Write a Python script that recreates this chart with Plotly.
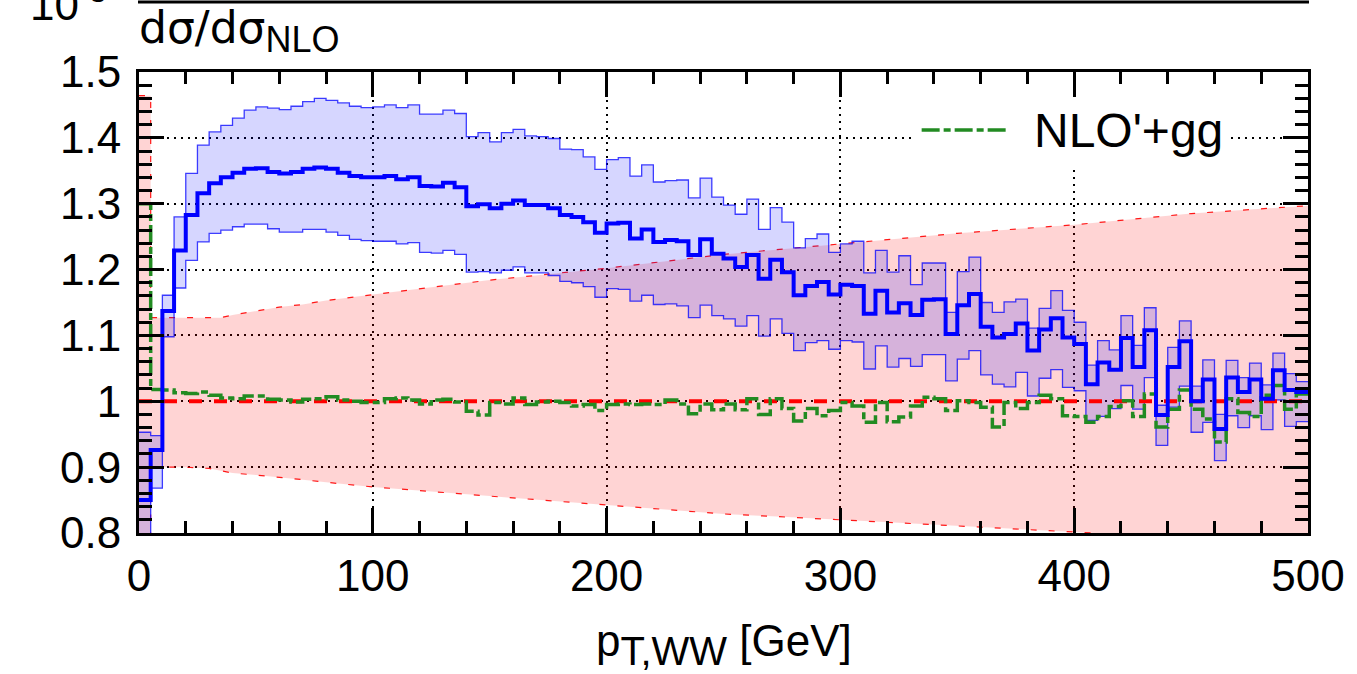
import plotly.graph_objects as go

# ---------------- data ----------------
bin_width = 5
bin_edges = [bin_width * i for i in range(101)]  # 0 .. 500 GeV

blue_central = [0.850, 0.926, 1.137, 1.229, 1.283, 1.316, 1.331, 1.340, 1.347, 1.353, 1.354, 1.348, 1.346, 1.348, 1.353, 1.355, 1.353, 1.347, 1.342, 1.340,
                1.340, 1.342, 1.337, 1.340, 1.327, 1.326, 1.332, 1.325, 1.296, 1.299, 1.293, 1.300, 1.305, 1.298, 1.298, 1.293, 1.283, 1.280, 1.272, 1.256,
                1.270, 1.271, 1.247, 1.261, 1.242, 1.245, 1.243, 1.222, 1.246, 1.224, 1.217, 1.204, 1.222, 1.186, 1.215, 1.196, 1.161, 1.175, 1.181, 1.162,
                1.177, 1.175, 1.133, 1.168, 1.135, 1.149, 1.131, 1.154, 1.155, 1.102, 1.146, 1.163, 1.113, 1.097, 1.102, 1.118, 1.077, 1.109, 1.126, 1.097,
                1.087, 1.026, 1.059, 1.048, 1.096, 1.052, 1.108, 0.979, 1.052, 1.091, 1.000, 1.033, 0.958, 1.036, 1.014, 1.033, 1.004, 1.047, 1.017, 1.014]

blue_upper = [0.953, 0.948, 1.161, 1.280, 1.346, 1.389, 1.409, 1.419, 1.430, 1.442, 1.447, 1.445, 1.443, 1.448, 1.455, 1.460, 1.457, 1.453, 1.448, 1.446,
              1.447, 1.450, 1.446, 1.450, 1.436, 1.436, 1.442, 1.437, 1.402, 1.408, 1.394, 1.408, 1.413, 1.403, 1.402, 1.399, 1.383, 1.382, 1.371, 1.352,
              1.367, 1.370, 1.342, 1.359, 1.333, 1.335, 1.336, 1.309, 1.339, 1.310, 1.298, 1.284, 1.307, 1.261, 1.294, 1.272, 1.233, 1.247, 1.254, 1.226,
              1.239, 1.243, 1.195, 1.229, 1.196, 1.221, 1.177, 1.210, 1.210, 1.135, 1.197, 1.219, 1.150, 1.135, 1.151, 1.155, 1.111, 1.141, 1.168, 1.138,
              1.120, 1.055, 1.092, 1.078, 1.130, 1.085, 1.142, 0.994, 1.082, 1.122, 1.023, 1.063, 0.980, 1.062, 1.036, 1.058, 1.025, 1.073, 1.042, 1.030]

blue_lower = [0.760, 0.868, 1.098, 1.172, 1.214, 1.242, 1.255, 1.260, 1.265, 1.269, 1.269, 1.262, 1.257, 1.257, 1.261, 1.261, 1.257, 1.252, 1.246, 1.244,
              1.243, 1.243, 1.239, 1.241, 1.226, 1.225, 1.229, 1.223, 1.196, 1.197, 1.195, 1.199, 1.204, 1.195, 1.195, 1.191, 1.182, 1.180, 1.174, 1.158,
              1.171, 1.170, 1.152, 1.161, 1.147, 1.148, 1.145, 1.127, 1.146, 1.130, 1.125, 1.114, 1.130, 1.099, 1.125, 1.103, 1.077, 1.089, 1.092, 1.079,
              1.092, 1.090, 1.049, 1.084, 1.052, 1.065, 1.053, 1.071, 1.071, 1.031, 1.064, 1.077, 1.040, 1.026, 1.022, 1.044, 1.008, 1.035, 1.048, 1.021,
              1.016, 0.971, 0.977, 0.989, 1.024, 0.988, 1.036, 0.933, 0.991, 1.023, 0.953, 0.968, 0.910, 0.978, 0.960, 0.978, 0.957, 1.002, 0.962, 0.969]

green_gg = [1.300, 1.018, 1.017, 1.013, 1.012, 1.014, 1.009, 1.005, 1.004, 1.008, 1.008, 1.003, 1.002, 0.999, 1.003, 1.004, 1.007, 1.002, 1.000, 0.998,
            0.998, 1.004, 1.005, 1.002, 0.996, 1.002, 1.003, 0.999, 0.985, 0.979, 0.998, 0.996, 1.005, 0.995, 0.999, 1.000, 0.998, 0.993, 0.995, 0.986,
            0.995, 0.996, 0.995, 0.996, 0.995, 1.002, 0.996, 0.981, 0.996, 0.987, 0.996, 0.987, 1.004, 0.980, 1.004, 0.989, 0.970, 0.989, 0.978, 0.986,
            0.998, 0.993, 0.968, 0.998, 0.969, 0.976, 0.993, 1.006, 1.004, 0.986, 1.001, 0.998, 0.991, 0.961, 0.998, 0.989, 0.998, 1.009, 1.004, 0.978,
            0.977, 0.968, 0.977, 0.992, 1.001, 0.977, 1.011, 0.961, 0.988, 1.017, 0.988, 0.973, 0.938, 1.004, 0.983, 0.977, 1.009, 1.024, 0.988, 1.011]

red_x = [0, 5, 5, 20, 30, 35, 40, 50, 60, 70, 80, 100, 150, 200, 250, 300, 350, 400, 450, 500]
red_upper = [1.464, 1.464, 1.127, 1.127, 1.127, 1.127, 1.131, 1.137, 1.143, 1.147, 1.153, 1.162, 1.184, 1.202, 1.223, 1.239, 1.255, 1.268, 1.285, 1.297]
red_lower = [0.700, 0.700, 0.900, 0.900, 0.898, 0.895, 0.891, 0.888, 0.885, 0.881, 0.877, 0.870, 0.856, 0.842, 0.829, 0.820, 0.811, 0.802, 0.792, 0.783]

nlo_x = [0, 500]
nlo_y = [1.0, 1.0]

y_tickvals = [0.8, 0.9, 1.0, 1.1, 1.2, 1.3, 1.4, 1.5]
y_ticktext = ["0.8", "0.9", "1", "1.1", "1.2", "1.3", "1.4", "1.5"]
x_tickvals = [0, 100, 200, 300, 400, 500]
x_ticktext = ["0", "100", "200", "300", "400", "500"]

legend_label = "NLO'+gg"

# ---------------- geometry ----------------
W, H = 1357, 674
L, R, T, B = 139, 44, 72, 141
PW, PH = W - L - R, H - T - B
X0, X1, Y0, Y1 = 0, 500, 0.8, 1.5


def px2gev(px):
    return X0 + (px - L) / PW * (X1 - X0)


def py2val(py):
    return Y1 - (py - T) / PH * (Y1 - Y0)


def py2paper(py):
    return (H - B - py) / PH


def px2paper(px):
    return (px - L) / PW


def step(vals):
    return list(vals) + [vals[-1]]


FONT = "Liberation Sans, Arial, Helvetica, sans-serif"
GREEN = "rgb(34,139,34)"
GREEN_DASH = "18px,4px,7px,4px"

fig = go.Figure()

# red NLO scale band
fig.add_trace(go.Scatter(x=red_x, y=red_lower, mode="lines",
                         line=dict(color="rgba(255,0,0,0.9)", width=1.2, dash="6px,12px"),
                         showlegend=False, hoverinfo="skip"))
fig.add_trace(go.Scatter(x=red_x, y=red_upper, mode="lines", fill="tonexty",
                         fillcolor="rgba(255,0,0,0.17)",
                         line=dict(color="rgba(255,0,0,0.9)", width=1.2, dash="6px,12px"),
                         showlegend=False, hoverinfo="skip"))

# blue band
fig.add_trace(go.Scatter(x=bin_edges, y=step(blue_lower), mode="lines", line_shape="hv",
                         line=dict(color="rgba(0,0,255,0.75)", width=1.3),
                         showlegend=False, hoverinfo="skip"))
fig.add_trace(go.Scatter(x=bin_edges, y=step(blue_upper), mode="lines", line_shape="hv",
                         fill="tonexty", fillcolor="rgba(0,0,255,0.16)",
                         line=dict(color="rgba(0,0,255,0.75)", width=1.3),
                         showlegend=False, hoverinfo="skip"))

# NLO reference line
fig.add_trace(go.Scatter(x=nlo_x, y=nlo_y, mode="lines",
                         line=dict(color="rgb(255,0,0)", width=4, dash="13px,12px"),
                         showlegend=False, hoverinfo="skip"))

# NLO'+gg
fig.add_trace(go.Scatter(x=bin_edges, y=step(green_gg), mode="lines", line_shape="hv",
                         line=dict(color=GREEN, width=3.5, dash=GREEN_DASH),
                         name=legend_label, showlegend=False, hoverinfo="skip"))

# central blue
fig.add_trace(go.Scatter(x=bin_edges, y=step(blue_central), mode="lines", line_shape="hv",
                         line=dict(color="rgb(0,0,255)", width=4),
                         showlegend=False, hoverinfo="skip"))

# ---------------- axes ----------------
common = dict(showline=True, linecolor="black", linewidth=3, mirror="allticks",
              ticks="inside", tickwidth=2.5, ticklen=25, tickcolor="black",
              showgrid=True, gridcolor="black", gridwidth=1.5, griddash="2px,5px",
              zeroline=False, tickfont=dict(family=FONT, size=44, color="black"))

fig.update_xaxes(range=[X0, X1], tickvals=x_tickvals, ticktext=x_ticktext,
                 minor=dict(dtick=20, ticks="inside", ticklen=12, tickwidth=2.5, tickcolor="black", showgrid=False),
                 ticklabelstandoff=2, **common)
fig.update_yaxes(range=[Y0, Y1], tickvals=y_tickvals, ticktext=y_ticktext,
                 minor=dict(dtick=0.02, tick0=0.8, ticks="inside", ticklen=13, tickwidth=2.5, tickcolor="black", showgrid=False),
                 ticklabelstandoff=6, **common)

# ---------------- legend (drawn by hand) ----------------
fig.add_shape(type="rect", xref="x", yref="y",
              x0=px2gev(915), x1=px2gev(1232), y0=py2val(168), y1=py2val(98),
              fillcolor="white", line=dict(width=0), layer="above")
fig.add_shape(type="line", xref="x", yref="y",
              x0=px2gev(925), x1=px2gev(1010), y0=py2val(130), y1=py2val(130),
              line=dict(color=GREEN, width=3.5, dash=GREEN_DASH), layer="above")
fig.add_annotation(x=px2gev(1036), y=py2val(130), xref="x", yref="y",
                   text=legend_label, showarrow=False, xanchor="left", yanchor="middle",
                   font=dict(family=FONT, size=48, color="black"))

# top panel remnants
fig.add_shape(type="line", xref="paper", yref="paper",
              x0=px2paper(138), x1=px2paper(1314), y0=py2paper(2), y1=py2paper(2),
              line=dict(color="black", width=3))
fig.add_annotation(x=px2paper(28), y=py2paper(31), xref="paper", yref="paper",
                   text="10<sup>-3</sup>", showarrow=False, xanchor="left", yanchor="bottom",
                   font=dict(family=FONT, size=44, color="black"))

# axis titles
fig.add_annotation(x=px2paper(137), y=py2paper(62), xref="paper", yref="paper",
                   text='<span style="font-family:DejaVu Sans">dσ/dσ</span>'
                        '<sub><span style="font-size:36px">NLO</span></sub>',
                   showarrow=False, xanchor="left", yanchor="bottom",
                   font=dict(family=FONT, size=44, color="black"))
fig.add_annotation(x=px2paper(726), y=py2paper(644), xref="paper", yref="paper",
                   text='p<sub><span style="font-size:40px">T,WW</span></sub> [GeV]',
                   showarrow=False, xanchor="center", yanchor="middle",
                   font=dict(family=FONT, size=44, color="black"))

fig.update_layout(width=W, height=H, margin=dict(l=L, r=R, t=T, b=B),
                  plot_bgcolor="white", paper_bgcolor="white", showlegend=False)

fig.write_html("out.html")
